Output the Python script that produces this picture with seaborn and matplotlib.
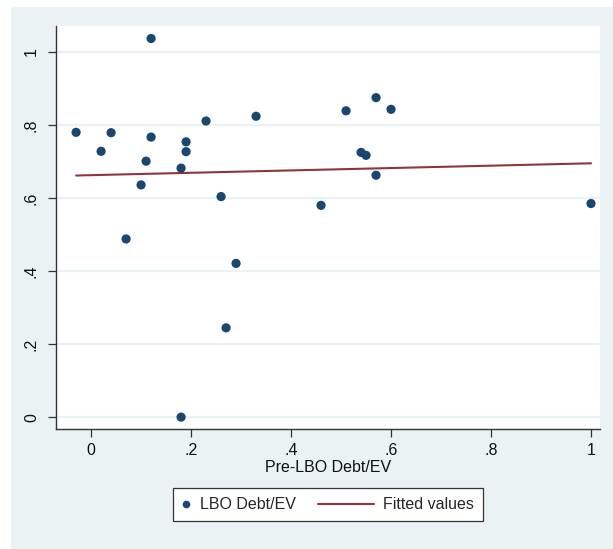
import numpy as np
import pandas as pd
import matplotlib
matplotlib.use("Agg")
import matplotlib.pyplot as plt
import seaborn as sns
from matplotlib.patches import Rectangle
from matplotlib.lines import Line2D
from matplotlib.legend_handler import HandlerLine2D

# ---- data ----
pre_lbo = [-0.03, 0.02, 0.04, 0.07, 0.10, 0.11, 0.12, 0.12, 0.18, 0.18, 0.19, 0.19,
           0.23, 0.26, 0.27, 0.29, 0.33, 0.46, 0.51, 0.54, 0.55, 0.57, 0.57, 0.60, 1.00]
lbo = [0.780, 0.728, 0.779, 0.488, 0.636, 0.701, 1.037, 0.767, 0.682, 0.000, 0.754, 0.727,
       0.811, 0.604, 0.2445, 0.421, 0.824, 0.580, 0.839, 0.725, 0.717, 0.875, 0.6625, 0.843, 0.585]
x_ticks = [0, 0.2, 0.4, 0.6, 0.8, 1.0]
x_tick_labels = ["0", ".2", ".4", ".6", ".8", "1"]
y_ticks = [0, 0.2, 0.4, 0.6, 0.8, 1.0]
y_tick_labels = ["0", ".2", ".4", ".6", ".8", "1"]
x_title = "Pre-LBO Debt/EV"
series_labels = ["LBO Debt/EV", "Fitted values"]

df = pd.DataFrame({"x": pre_lbo, "y": lbo})

sns.set_theme(style="white")
plt.rcParams["font.family"] = ["Liberation Sans", "DejaVu Sans"]

W, H = 613, 549
fig = plt.figure(figsize=(W / 100, H / 100), dpi=100, facecolor="white")
bg = "#EAF2F3"
fig.patches.append(Rectangle((10.6 / W, 0), 1 - 10.6 / W, 1 - 7 / H,
                             transform=fig.transFigure, facecolor=bg,
                             edgecolor="none", zorder=-10))

ax = fig.add_axes([55.6 / W, (H - 428.8) / H, (600 - 55.6) / W, (428.8 - 25.5) / H])
ax.set_facecolor("white")

navy = "#1A476F"
maroon = "#90353B"

for yt in y_ticks:
    ax.axhline(yt, color=bg, lw=1.6, zorder=0)

sns.scatterplot(data=df, x="x", y="y", ax=ax, color=navy, s=44, edgecolor="none",
                legend=False, zorder=3)
sns.regplot(data=df, x="x", y="y", ax=ax, scatter=False, ci=None, truncate=True,
            line_kws={"color": maroon, "lw": 1.5})

ax.set_xlim(-0.071, 1.018)
ax.set_ylim(-0.032, 1.0726)
ax.set_xticks(x_ticks)
ax.set_xticklabels(x_tick_labels)
ax.set_yticks(y_ticks)
ax.set_yticklabels(y_tick_labels, rotation=90, va="center")
ax.tick_params(axis="both", which="major", length=6, width=0.9, color="#333333",
               labelsize=11.5, labelcolor="#111111", direction="out", pad=4,
               bottom=True, left=True)
ax.tick_params(axis="y", pad=6)

for side in ["top", "right"]:
    ax.spines[side].set_visible(False)
for side in ["left", "bottom"]:
    ax.spines[side].set_color("#333333")
    ax.spines[side].set_linewidth(1.0)

ax.set_xlabel(x_title, fontsize=11.5, color="#111111", labelpad=2)
ax.set_ylabel("")


class ShortMarkerHandler(HandlerLine2D):
    def legend_artist(self, legend, orig_handle, fontsize, handlebox):
        handlebox.width = 0.55 * fontsize
        return super().legend_artist(legend, orig_handle, fontsize, handlebox)


marker_handle = Line2D([], [], linestyle="none", marker="o", markersize=5.5,
                       color=navy, markeredgecolor="none")
line_handle = Line2D([], [], color=maroon, lw=1.5)
leg = ax.legend([marker_handle, line_handle], series_labels,
                handler_map={marker_handle: ShortMarkerHandler(numpoints=1)},
                loc="upper center", bbox_to_anchor=(0.5, -0.148),
                ncol=2, frameon=True, fancybox=False, fontsize=11.5,
                edgecolor="#333333", facecolor="white", framealpha=1,
                handlelength=3.5, handletextpad=0.6, columnspacing=1.4,
                borderpad=0.55, borderaxespad=0)
leg.get_frame().set_linewidth(0.9)

fig.savefig("out.png", dpi=100)
